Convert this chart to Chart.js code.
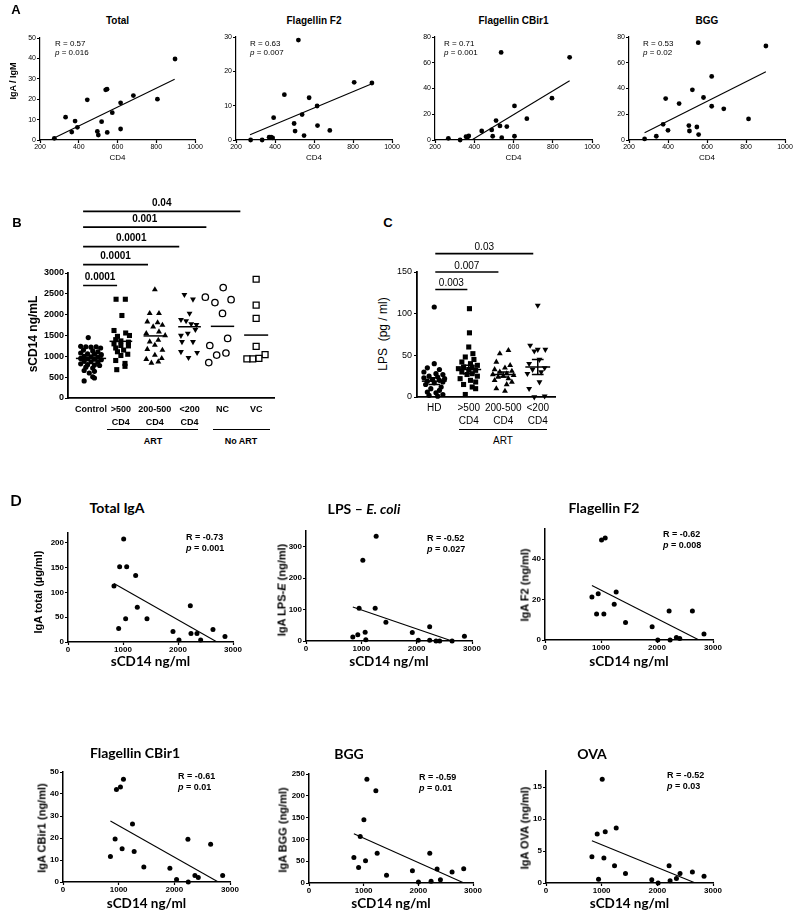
<!DOCTYPE html>
<html><head><meta charset="utf-8">
<script src="https://cdn.jsdelivr.net/npm/chart.js@4"></script>
<style>
body{margin:0;background:#fff;}
#wrap{position:relative;width:800px;height:913px;overflow:hidden;font-family:"Liberation Sans",Arial,sans-serif;color:#000;background:#fff;}
canvas{position:absolute;}
.t{position:absolute;white-space:nowrap;line-height:1;color:#000;}
.hl{position:absolute;height:0;border-top:1.5px solid #000;}
</style></head><body><div id="wrap"></div>
<script>
// ---------------- DATA ----------------
// Panel A (x = CD4)
const aTotalX = [274,332,364,381,393,444,496,501,518,539,546,547,573,616,616,682,806,897];
const aTotalY = [0.8,11.2,3.9,9.3,6.2,19.7,4.2,2.4,9.0,24.6,24.9,3.7,13.4,18.2,5.4,21.8,20.0,39.7];
const aTotalFitX = [270,895], aTotalFitY = [0.8,29.8];
const aF2X = [275,334,370,380,388,393,448,498,503,520,539,549,575,616,618,681,806,897];
const aF2Y = [0,0,0.8,0.8,0.6,6.5,13.2,4.8,2.6,29.1,7.4,1.3,12.3,9.9,4.2,2.8,16.8,16.6];
const aF2FitX = [272,897], aF2FitY = [1.5,16.4];
const aCBX = [268,328,358,365,372,438,489,494,511,531,537,540,566,605,605,668,796,886];
const aCBY = [1.3,0,2.6,2.0,3.1,7.0,7.8,2.9,15.1,10.9,68,1.8,10.4,26.5,2.9,16.6,32.5,64.2];
const aCBFitX = [387,886], aCBFitY = [0,46];
const aBGGX = [280,340,375,388,400,457,507,510,525,548,555,557,582,624,624,686,813,902];
const aBGGY = [0.8,2.9,12.2,32.2,7.5,28.3,11.2,7.0,39,10.1,75.6,4.2,33,49.4,26.2,24.2,16.4,73];
const aBGGFitX = [280,902], aBGGFitY = [5.7,53];
const aTitles = ['Total','Flagellin F2','Flagellin CBir1','BGG'];
const aR = ['0.57','0.63','0.71','0.53'];
const aP = ['0.016','0.007','0.001','0.02'];
const aYMax = [50,30,80,80], aYStep = [10,10,20,20];

// Panel B (sCD14 ng/mL)
const bTickLabels = [['Control'],['>500','CD4'],['200-500','CD4'],['<200','CD4'],['NC'],['VC']];
const bPos = [1.17,2.04,3.03,4.04,5.0,5.98];
const bControl = [1450,1240,1230,1220,1230,1200,1150,1130,1110,1080,1060,1050,1040,1000,990,980,950,940,930,920,880,870,860,820,800,790,780,740,720,660,640,600,510,480,410];
const bControlJit = [-0.08,-0.3,-0.15,0,0.15,0.28,-0.22,0.05,0.2,-0.3,-0.1,0.1,0.3,-0.2,0,0.2,-0.3,-0.1,0.1,0.3,-0.2,0,0.2,-0.3,-0.1,0.1,0.25,-0.15,0.05,-0.2,0.1,-0.05,0.05,0.1,-0.2];
const bOver500 = [2370,2370,1980,1620,1560,1500,1480,1400,1370,1340,1300,1260,1250,1200,1150,1110,1050,1020,900,830,760,680];
const bOver500Jit = [-0.14,0.13,0.03,-0.2,0.14,0.25,-0.1,-0.15,0,0.22,-0.2,0,0.22,-0.15,0.08,-0.1,0.2,0,-0.15,0.12,0.12,-0.12];
const bMid = [2600,2030,2030,1830,1810,1750,1710,1590,1550,1500,1390,1350,1270,1170,1150,1030,950,930,870,840];
const bMidJit = [0,-0.15,0.12,-0.22,0.08,0.22,-0.05,0.12,-0.25,0.3,0.1,-0.15,0,-0.22,0.22,0,0.2,-0.25,0.1,-0.1];
const bUnder200 = [2480,2370,2030,1880,1850,1780,1760,1640,1550,1500,1350,1350,1110,1090,970];
const bUnder200Jit = [-0.15,0.1,0,-0.25,-0.1,0.05,0.2,0.17,-0.05,-0.25,-0.22,0.1,-0.25,0.22,-0.03];
const bNC = [2650,2420,2360,2290,2030,1430,1260,1080,1030,850];
const bNCJit = [0.02,-0.5,0.25,-0.22,0,0.15,-0.37,0.1,-0.17,-0.4];
const bVC = [2850,2230,1910,1240,1040,950,940,940];
const bVCJit = [0,0,0,0,0.26,0.08,-0.1,-0.27];
const bMeans = [950,1360,1490,1710,1720,1510];
const bMeanHalf = [0.44,0.33,0.33,0.33,0.34,0.35];
const bSigFrom = [0.94,0.94,0.94,0.94,0.94];
const bSigTo = [1.93,2.83,3.74,4.53,5.52];
const bSigY = [2700,3200,3634,4100,4478];
const bSigText = ['0.0001','0.0001','0.0001','0.001','0.04'];

// Panel C (LPS pg/ml)
const cTickLabels = [['HD'],['>500','CD4'],['200-500','CD4'],['<200','CD4']];
const cPos = [1,2,3,4];
const cHD = [108,40,35,33,30,28,27,25,24,23,22,21,20,19,18,17,15,12,10,8,6,5,3,2,1];
const cHDJit = [0,0,-0.2,0.15,-0.3,0.05,0.25,-0.15,0.1,-0.3,0.3,-0.05,0.15,-0.2,0.25,0,-0.25,0.2,-0.1,0.15,-0.2,0.05,0.25,-0.15,0.1];
const cOver500 = [106,77,60,52,48,45,42,40,38,36,35,34,33,32,30,28,27,25,22,20,18,15,12,10,3];
const cOver500Jit = [0.02,0.02,0,0.12,-0.1,0.15,-0.2,0.05,0.25,-0.15,0.1,-0.3,0,0.2,-0.2,0.1,-0.05,0.25,-0.25,0.05,0.2,-0.15,0.1,0.2,-0.1];
const cMid = [56,52,42,38,35,33,31,30,28,27,26,25,24,22,20,18,15,10,7];
const cMidJit = [0.15,-0.1,-0.2,0.2,0.05,-0.25,0.25,-0.1,0.1,-0.3,0.3,0,-0.15,0.15,-0.25,0.25,0.1,-0.2,0.05];
const cUnder200 = [110,62,57,57,55,45,40,35,33,30,28,18,10,1,0];
const cUnder200Jit = [0,-0.22,0,0.22,-0.1,0.05,-0.25,0.2,-0.15,0.1,-0.3,0.05,-0.25,0.2,-0.1];
const cMeans = [19,33,27,36];
const cSem = [4,5,3,9];
const cSigFrom = [1.03,1.03,1.03];
const cSigTo = [1.96,2.86,3.87];
const cSigY = [129,150,172];
const cSigText = ['0.003','0.007','0.03'];

// Panel D (x = sCD14 ng/ml)
const d1X = [836,921,939,1012,1048,1067,1230,1260,1436,1909,2018,2224,2236,2345,2412,2636,2854];
const d1Y = [113,27,152,208,47,152,134,70,47,21,4,73,17,17,4,25,11];
const d1FitX = [836,2709], d1FitY = [118,0];
const d2X = [846,936,960,1027,1069,1081,1250,1268,1444,1921,2029,2235,2235,2350,2416,2640,2863];
const d2Y = [13,20,104,257,28,4,104,333,60,27,2,45,2,0,0,0,15];
const d2FitX = [846,2640], d2FitY = [108,0];
const d3X = [838,921,950,1010,1051,1075,1236,1271,1438,1913,2014,2216,2234,2346,2406,2632,2839];
const d3Y = [21.3,12.9,22.9,49.5,12.9,50.5,17.7,23.8,8.7,6.6,0,14.4,0,1.3,0.8,14.4,3.0];
const d3FitX = [838,2750], d3FitY = [27,0];
const d4X = [852,936,960,1032,1062,1086,1248,1278,1452,1920,2040,2244,2250,2370,2430,2652,2868];
const d4Y = [11.6,19.6,42,43.2,15.1,46.7,26.4,13.9,6.8,6.2,1.1,19.4,0,2.9,2.1,17.2,3.0];
const d4FitX = [852,2790], d4FitY = [27.7,0];
const d5X = [821,907,937,1004,1034,1059,1223,1247,1418,1892,2002,2209,2233,2343,2404,2617,2830];
const d5Y = [58.7,35.8,106.7,144.8,51,237.8,211.8,68,17.5,28,2.3,68,3.8,32,7.6,25,32.8];
const d5FitX = [821,2835], d5FitY = [113,0];
const d6X = [825,920,944,1010,1040,1064,1231,1261,1428,1900,2014,2211,2229,2343,2408,2630,2839];
const d6Y = [4.1,7.65,0.58,16.2,3.9,8.0,2.7,8.6,1.5,0.5,0,2.7,0.37,0.7,1.5,1.7,1.05];
const d6FitX = [825,2683], d6FitY = [6.6,0];
const dTitles = ['Total IgA','LPS – <i>E. coli</i>','Flagellin F2','Flagellin CBir1','BGG','OVA'];
const dYTitles = ['IgA total (µg/ml)','IgA LPS-<i>E</i> (ng/ml)','IgA F2 (ng/ml)','IgA CBir1 (ng/ml)','IgA BGG (ng/ml)','IgA OVA (ng/ml)'];
const dR = ['-0.73','-0.52','-0.62','-0.61','-0.59','-0.52'];
const dP = ['0.001','0.027','0.008','0.01','0.01','0.03'];
const dYMax = [220,350,55,50,250,17.5], dYStep = [50,100,20,10,50,5];

// ---------------- DRAWING ----------------
const W = document.getElementById('wrap');
const SANS = "'Liberation Sans', Arial, sans-serif";
Chart.defaults.font.family = SANS;
Chart.defaults.color = '#000';

function T(html, x, y, css, align) {
  const d = document.createElement('div');
  d.className = 't'; d.innerHTML = html;
  d.style.cssText += 'left:' + x + 'px;top:' + y + 'px;' + (css || '');
  d.style.transform = align === 'l' ? 'translate(0,-50%)' : (align === 'v' ? 'translate(-50%,-50%) rotate(-90deg)' : 'translate(-50%,-50%)');
  W.appendChild(d);
}
function HL(x0, x1, y) {
  const d = document.createElement('div'); d.className = 'hl';
  d.style.left = x0 + 'px'; d.style.width = (x1 - x0) + 'px'; d.style.top = y + 'px';
  W.appendChild(d);
}
function pts(xs, ys) { return xs.map((x, i) => ({x: x, y: ys[i]})); }

function mk(rect, m, cfg, plugins) {
  const c = document.createElement('canvas');
  const w = Math.round(rect.x1 - rect.x0 + m.l + m.r), h = Math.round(rect.bottom - rect.top + m.t + m.b);
  c.width = w; c.height = h;
  c.style.left = (rect.x0 - m.l) + 'px'; c.style.top = (rect.top - m.t) + 'px';
  c.style.width = w + 'px'; c.style.height = h + 'px';
  W.appendChild(c);
  const o = cfg.options;
  o.responsive = false; o.animation = false; o.devicePixelRatio = 1;
  o.layout = {padding: {top: m.t, right: m.r, left: 0, bottom: 0}};
  o.plugins = {legend: {display: false}, tooltip: {enabled: false}, title: {display: false}};
  o.scales.y.afterFit = s => { s.width = m.l; };
  o.scales.x.afterFit = s => { s.height = m.b; };
  cfg.plugins = plugins || [];
  return new Chart(c, cfg);
}

function ax(min, max, step, font, opt) {
  opt = opt || {};
  return {
    type: 'linear', min: min, max: max,
    ticks: {stepSize: step, font: font, color: '#000', padding: opt.pad == null ? 1 : opt.pad, autoSkip: false, maxRotation: 0, includeBounds: false,
            callback: v => String(v)},
    grid: {display: true, drawOnChartArea: false, drawTicks: !opt.noTicks, tickLength: opt.tl || 3, tickColor: '#000', tickWidth: opt.tw || 1.2, color: '#000'},
    border: {display: true, color: '#000', width: opt.bw || 1.5},
    afterBuildTicks: s => { s.ticks = s.ticks.filter(t => Math.abs(t.value / step - Math.round(t.value / step)) < 1e-6); }
  };
}

function scatterCfg(xs, ys, fx, fy, xAx, yAx, r) {
  return {type: 'scatter', data: {datasets: [
    {data: pts(fx, fy), showLine: true, borderColor: '#000', borderWidth: 1.1, pointRadius: 0, fill: false},
    {data: pts(xs, ys), pointRadius: r, pointHoverRadius: r, backgroundColor: '#000', borderColor: '#000', borderWidth: 0, clip: false}
  ]}, options: {scales: {x: xAx, y: yAx}}};
}

function sigPlugin(from, to, ys, labels, font, gap) {
  return {id: 'sig', afterDatasetsDraw(ch) {
    const ctx = ch.ctx, xs = ch.scales.x, yy = ch.scales.y;
    ctx.save(); ctx.strokeStyle = '#000'; ctx.fillStyle = '#000'; ctx.lineWidth = 1.6;
    ctx.font = font; ctx.textAlign = 'center'; ctx.textBaseline = 'bottom';
    for (let i = 0; i < from.length; i++) {
      const x0 = xs.getPixelForValue(from[i]), x1 = xs.getPixelForValue(to[i]), y = yy.getPixelForValue(ys[i]);
      ctx.beginPath(); ctx.moveTo(x0, y); ctx.lineTo(x1, y); ctx.stroke();
      ctx.fillText(labels[i], (x0 + x1) / 2, y - gap);
    }
    ctx.restore();
  }};
}
function meanPlugin(pos, means, half, sems, cap) {
  return {id: 'means', afterDatasetsDraw(ch) {
    const ctx = ch.ctx, x = ch.scales.x, y = ch.scales.y;
    ctx.save(); ctx.strokeStyle = '#000'; ctx.lineWidth = 1.5;
    pos.forEach((p, i) => {
      const ym = y.getPixelForValue(means[i]);
      ctx.beginPath(); ctx.moveTo(x.getPixelForValue(p - half[i]), ym); ctx.lineTo(x.getPixelForValue(p + half[i]), ym); ctx.stroke();
      if (sems) {
        const yt = y.getPixelForValue(means[i] + sems[i]), yb = y.getPixelForValue(means[i] - sems[i]);
        const xc = x.getPixelForValue(p), xl = x.getPixelForValue(p - cap), xr = x.getPixelForValue(p + cap);
        ctx.beginPath(); ctx.moveTo(xc, yt); ctx.lineTo(xc, yb);
        ctx.moveTo(xl, yt); ctx.lineTo(xr, yt); ctx.moveTo(xl, yb); ctx.lineTo(xr, yb); ctx.stroke();
      }
    });
    ctx.restore();
  }};
}

// ---- Panel A ----
const aRects = [{x0:40,x1:195,top:38,bottom:140},{x0:236,x1:392,top:37,bottom:140},{x0:435,x1:592,top:37,bottom:140},{x0:629,x1:785,top:37,bottom:140}];
const aData = [[aTotalX,aTotalY,aTotalFitX,aTotalFitY],[aF2X,aF2Y,aF2FitX,aF2FitY],[aCBX,aCBY,aCBFitX,aCBFitY],[aBGGX,aBGGY,aBGGFitX,aBGGFitY]];
const aTickFont = {size: 7, family: SANS};
const aRx = [55,250,444,643];
aRects.forEach((r, i) => {
  const d = aData[i];
  mk(r, {l:22, r:14, t:6, b:14}, scatterCfg(d[0], d[1], d[2], d[3],
    ax(200, 1000, 200, aTickFont, {pad:0, bw:1.2}), ax(0, aYMax[i], aYStep[i], aTickFont, {pad:1, bw:1.2}), 2.4));
  T(aTitles[i], (r.x0 + r.x1) / 2, 21, 'font-size:10px;font-weight:bold;');
  T('R = ' + aR[i], aRx[i], 44, 'font-size:8px;', 'l');
  T('<i>p</i> = ' + aP[i], aRx[i], 53, 'font-size:8px;', 'l');
  T('CD4', (r.x0 + r.x1) / 2, 158, 'font-size:8px;');
});
T('IgA / IgM', 12.5, 81, 'font-size:9px;font-weight:bold;', 'v');
T('A', 16, 9, 'font-size:13px;font-weight:bold;');

// ---- Panel B ----
const bRect = {x0:68, x1:274, top:273, bottom:398};
const bTick = {size: 9, weight: 'bold', family: SANS};
const bX = ax(0.5, 6.5, 1, bTick, {noTicks: true, pad: 5, bw: 1.8});
bX.afterBuildTicks = s => { s.ticks = bPos.map(v => ({value: v})); };
bX.ticks.callback = (v, i) => bTickLabels[i];
bX.ticks.font = {size: 9, weight: 'bold', family: SANS, lineHeight: 1.45};
const bY = ax(0, 3000, 500, bTick, {pad: 1, bw: 1.8});
function grp(vals, jit, p) { return vals.map((v, i) => ({x: p + jit[i], y: v})); }
mk(bRect, {l:30, r:10, t:78, b:30}, {type: 'scatter', data: {datasets: [
  {data: grp(bControl, bControlJit, bPos[0]), pointStyle: 'circle', pointRadius: 2.6, backgroundColor: '#000', borderWidth: 0, clip: false},
  {data: grp(bOver500, bOver500Jit, bPos[1]), pointStyle: 'rect', pointRadius: 3.6, backgroundColor: '#000', borderWidth: 0, clip: false},
  {data: grp(bMid, bMidJit, bPos[2]), pointStyle: 'triangle', pointRadius: 3.4, backgroundColor: '#000', borderColor: '#000', borderWidth: 0, clip: false},
  {data: grp(bUnder200, bUnder200Jit, bPos[3]), pointStyle: 'triangle', rotation: 180, pointRadius: 3.4, backgroundColor: '#000', borderColor: '#000', borderWidth: 0, clip: false},
  {data: grp(bNC, bNCJit, bPos[4]), pointStyle: 'circle', pointRadius: 3.2, backgroundColor: '#fff', borderColor: '#000', borderWidth: 1.3, clip: false},
  {data: grp(bVC, bVCJit, bPos[5]), pointStyle: 'rect', pointRadius: 4.2, backgroundColor: '#fff', borderColor: '#000', borderWidth: 1.3, clip: false}
]}, options: {scales: {x: bX, y: bY}}}, [
  meanPlugin(bPos, bMeans, bMeanHalf, null, 0),
  sigPlugin(bSigFrom, bSigTo, bSigY, bSigText, 'bold 10px ' + SANS, 3)
]);
T('sCD14 ng/mL', 33, 334, 'font-size:12px;font-weight:bold;', 'v');
T('B', 17, 222, 'font-size:13px;font-weight:bold;');
HL(107, 198, 429); HL(213, 270, 429);
T('ART', 153, 441, 'font-size:9px;font-weight:bold;');
T('No ART', 241, 441, 'font-size:9px;font-weight:bold;');

// ---- Panel C ----
const cRect = {x0:417, x1:555, top:272, bottom:397};
const cX = ax(0.5, 4.5, 1, {size: 10, family: SANS}, {noTicks: true, pad: 5, bw: 1.8});
cX.afterBuildTicks = s => { s.ticks = cPos.map(v => ({value: v})); };
cX.ticks.callback = (v, i) => cTickLabels[i];
cX.ticks.font = {size: 10, family: SANS, lineHeight: 1.3};
const cY = ax(0, 150, 50, {size: 9, family: SANS}, {pad: 2, bw: 1.8});
mk(cRect, {l:24, r:10, t:36, b:30}, {type: 'scatter', data: {datasets: [
  {data: grp(cHD, cHDJit, cPos[0]), pointStyle: 'circle', pointRadius: 2.6, backgroundColor: '#000', borderWidth: 0, clip: false},
  {data: grp(cOver500, cOver500Jit, cPos[1]), pointStyle: 'rect', pointRadius: 3.6, backgroundColor: '#000', borderWidth: 0, clip: false},
  {data: grp(cMid, cMidJit, cPos[2]), pointStyle: 'triangle', pointRadius: 3.4, backgroundColor: '#000', borderWidth: 0, clip: false},
  {data: grp(cUnder200, cUnder200Jit, cPos[3]), pointStyle: 'triangle', rotation: 180, pointRadius: 3.4, backgroundColor: '#000', borderWidth: 0, clip: false}
]}, options: {scales: {x: cX, y: cY}}}, [
  meanPlugin(cPos, cMeans, [0.36,0.36,0.36,0.36], cSem, 0.17),
  sigPlugin(cSigFrom, cSigTo, cSigY, cSigText, '10px ' + SANS, 1)
]);
T('LPS&nbsp;&nbsp;(pg / ml)', 383, 334, 'font-size:12px;', 'v');
T('C', 388, 222, 'font-size:13px;font-weight:bold;');
HL(459, 547, 429);
T('ART', 503, 441, 'font-size:10px;');

// ---- Panel D ----
const dRects = [{x0:68,x1:233,top:533,bottom:642},{x0:306,x1:472,top:531,bottom:641},{x0:545,x1:713,top:529,bottom:640},
                {x0:63,x1:230,top:772,bottom:882},{x0:309,x1:473,top:774,bottom:883},{x0:546,x1:713,top:771,bottom:883}];
const dData = [[d1X,d1Y,d1FitX,d1FitY],[d2X,d2Y,d2FitX,d2FitY],[d3X,d3Y,d3FitX,d3FitY],[d4X,d4Y,d4FitX,d4FitY],[d5X,d5Y,d5FitX,d5FitY],[d6X,d6Y,d6FitX,d6FitY]];
const dTitlePos = [[117,508],[364,509],[604,508],[135,753],[349,754],[592,754]];
const dRPos = [[186,537,548],[427,538,549],[663,534,545],[178,776,787],[419,777,788],[667,775,786]];
const dYTitlePos = [[38,592],[282,590],[525,585],[42,828],[283,830],[525,828]];
const dXTitleY = [662,662,662,904,904,904];
const dTick = {size: 8, weight: 'bold', family: SANS};
dRects.forEach((r, i) => {
  const d = dData[i];
  mk(r, {l:26, r:16, t:6, b:16}, scatterCfg(d[0], d[1], d[2], d[3],
    ax(0, 3000, 1000, dTick, {pad:0, bw:1.5}), ax(0, dYMax[i], dYStep[i], dTick, {pad:1, bw:1.5}), 2.5));
  T(dTitles[i], dTitlePos[i][0], dTitlePos[i][1], "font-family:Lato,sans-serif;font-size:14px;font-weight:bold;");
  T('R = ' + dR[i], dRPos[i][0], dRPos[i][1], 'font-size:9px;font-weight:bold;', 'l');
  T('<i>p</i> = ' + dP[i], dRPos[i][0], dRPos[i][2], 'font-size:9px;font-weight:bold;', 'l');
  T(dYTitles[i], dYTitlePos[i][0], dYTitlePos[i][1], 'font-size:11px;font-weight:bold;', 'v');
  T('sCD14 ng/ml', (r.x0 + r.x1) / 2, dXTitleY[i], "font-family:Lato,sans-serif;font-size:13.5px;font-weight:bold;");
});
T('D', 16, 500, "font-family:Lato,sans-serif;font-size:15px;font-weight:bold;");
</script></body></html>
